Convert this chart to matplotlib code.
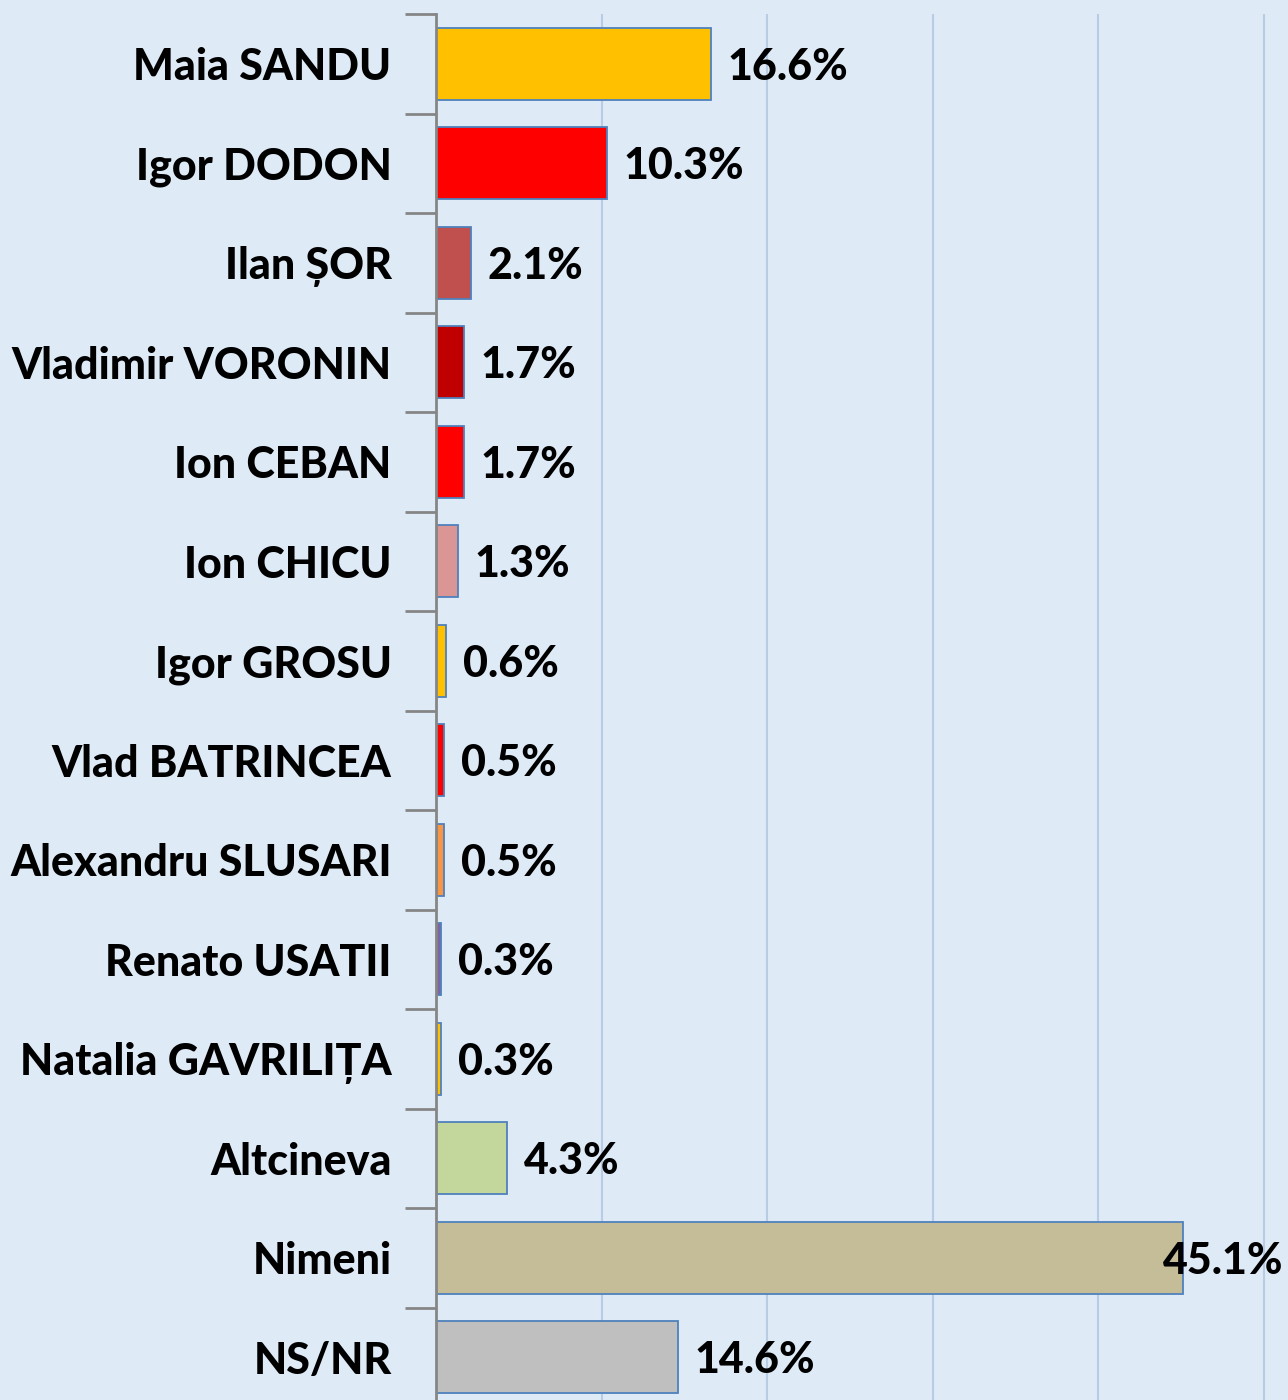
from matplotlib import pyplot as plt
from matplotlib.ticker import MultipleLocator

names = ["Maia SANDU", "Igor DODON", "Ilan ȘOR", "Vladimir VORONIN", "Ion CEBAN",
         "Ion CHICU", "Igor GROSU", "Vlad BATRINCEA", "Alexandru SLUSARI",
         "Renato USATII", "Natalia GAVRILIȚA", "Altcineva", "Nimeni", "NS/NR"]
values = [16.6, 10.3, 2.1, 1.7, 1.7, 1.3, 0.6, 0.5, 0.5, 0.3, 0.3, 4.3, 45.1, 14.6]
colours = ["#FFC000", "#FF0000", "#C0504D", "#C00000", "#FF0000", "#D99694", "#FFC000",
           "#FF0000", "#F79646", "#8064A2", "#FFC000", "#C3D69B", "#C4BD97", "#BFBFBF"]

BG = "#DEEAF6"
FONT = "Lato"
WEIGHT = 900

fig = plt.figure(figsize=(12.88, 14), dpi=100, facecolor=BG)
ax = fig.add_axes([436 / 1288, -7 / 1400, 852 / 1288, 1393 / 1400], facecolor=BG)

ypos = list(range(len(names)))
ax.barh(ypos, values, height=0.72, color=colours, edgecolor="#4F81BD", linewidth=1.3, zorder=3)

xmax = 51.45
ax.set_xlim(0, xmax)
ax.set_ylim(len(names) - 0.5, -0.5)

ax.xaxis.set_major_locator(MultipleLocator(10))
ax.grid(axis="x", color="#B8CCE4", lw=1.5, zorder=0)
ax.tick_params(axis="x", which="both", length=0, labelbottom=False)

ax.set_yticks(ypos)
ax.set_yticklabels(names, fontsize=31, fontweight=WEIGHT, family=FONT)
ax.set_yticks([y - 0.5 for y in ypos], minor=True)
ax.tick_params(axis="y", which="major", length=0, pad=32)
ax.tick_params(axis="y", which="minor", length=22, width=2, color="#868686")

for s in ["top", "right", "bottom"]:
    ax.spines[s].set_visible(False)
ax.spines["left"].set_color("#868686")
ax.spines["left"].set_linewidth(2)
ax.spines["left"].set_zorder(4)

for y, v in zip(ypos, values):
    txt = f"{v:.1f}%"
    if v > 44:
        ax.annotate(txt, (xmax, y), xytext=(-3, -2), textcoords="offset points",
                    ha="right", va="center", fontsize=31, fontweight=WEIGHT, family=FONT, zorder=5)
    else:
        ax.annotate(txt, (v, y), xytext=(12, -2), textcoords="offset points",
                    ha="left", va="center", fontsize=31, fontweight=WEIGHT, family=FONT, zorder=5)

fig.savefig("out.png", facecolor=BG)
